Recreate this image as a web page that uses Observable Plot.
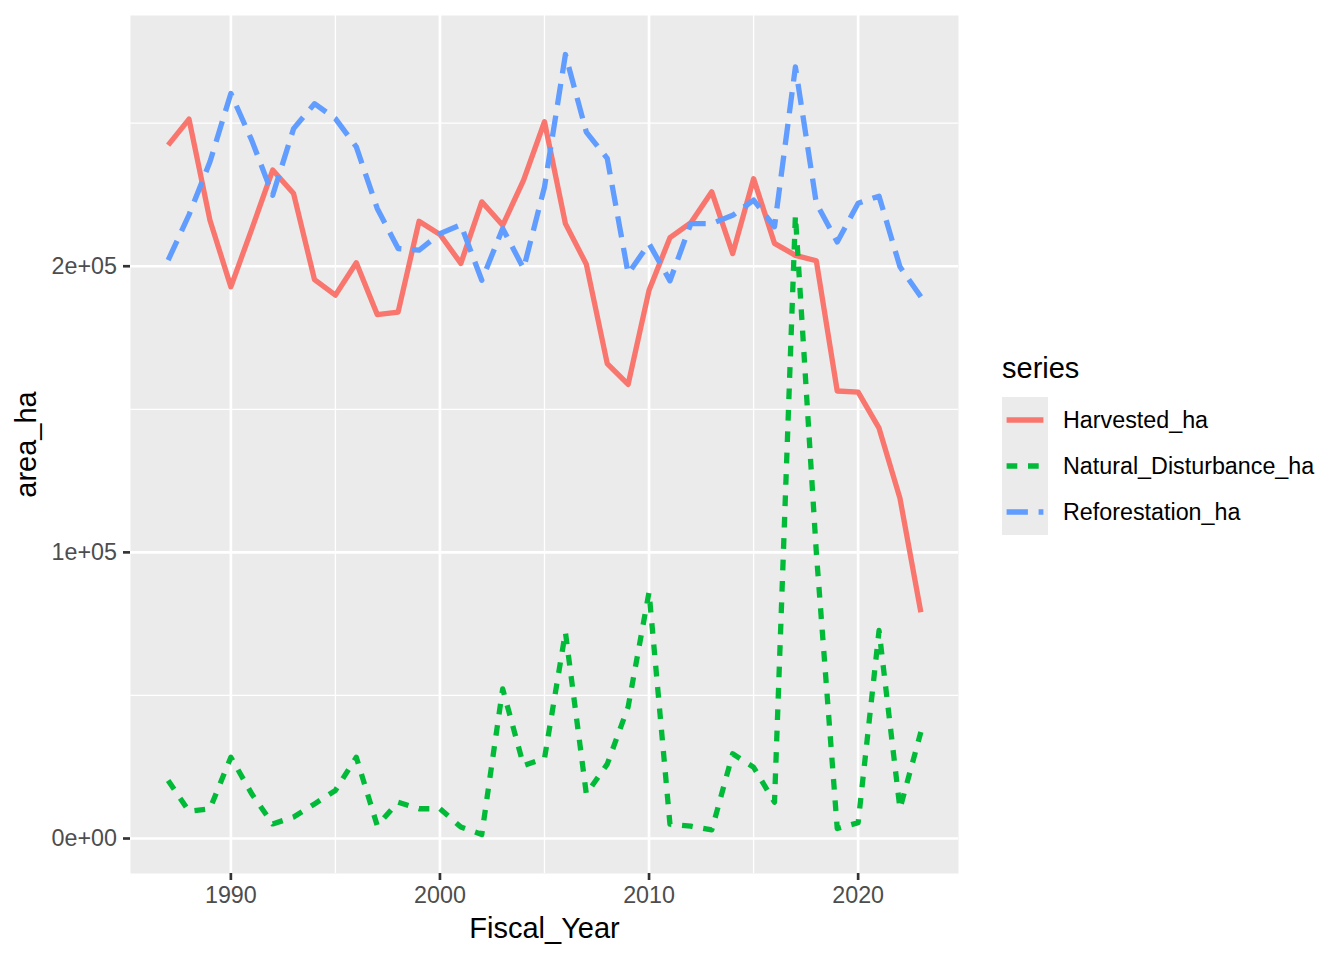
<!DOCTYPE html>
<html>
<head>
<meta charset="utf-8">
<script src="https://cdn.jsdelivr.net/npm/d3@7"></script>
<script src="https://cdn.jsdelivr.net/npm/@observablehq/plot@0.6"></script>
<style>
  html, body { margin: 0; padding: 0; background: white; overflow: hidden; }
  #wrap { position: relative; width: 1344px; height: 960px; }
  #legend { position: absolute; left: 0; top: 0; pointer-events: none; }
</style>
</head>
<body>
<div id="wrap"></div>
<script>
// ---- data ----
const years = [1987,1988,1989,1990,1991,1992,1993,1994,1995,1996,1997,1998,1999,2000,2001,2002,2003,2004,2005,2006,2007,2008,2009,2010,2011,2012,2013,2014,2015,2016,2017,2018,2019,2020,2021,2022,2023];
const harvested = [242300,251400,216100,192800,213000,233600,225400,195300,189900,201200,183100,184000,215700,211100,201000,222500,214300,230100,250500,214900,200700,166000,158700,191600,210000,215200,226000,204400,230600,208000,203800,201900,156400,156000,143400,118900,79100];
const naturalDisturbance = [20300,9500,10400,28400,15600,5100,7500,12100,16800,28400,4500,12700,10400,10400,4000,1400,52300,25500,28000,72100,15600,26000,46000,86100,5000,4300,3000,29600,24900,12700,217800,100000,3500,5500,72700,10400,37200];
const reforestation = [202100,218000,236500,260400,244000,224800,248100,256800,251600,241700,220200,206200,205600,211400,214500,195100,213200,199200,227700,274000,246900,237700,197400,207900,194900,214900,214900,217800,223100,213800,269700,222000,208500,222000,224500,199800,189300];

const seriesNames = ["Harvested_ha","Natural_Disturbance_ha","Reforestation_ha"];
const seriesValues = [harvested, naturalDisturbance, reforestation];
const seriesColors = ["#F8766D","#00BA38","#619CFF"];
const seriesDash = [null, "10.7,10.7", "21.3,10.7"];

const xTicks = [1990,2000,2010,2020];
const xMinor = [1995,2005,2015];
const yTicks = [0,100000,200000];
const yTickLabels = ["0e+00","1e+05","2e+05"];
const yMinor = [50000,150000,250000];

// ---- build ----
const rows = [];
seriesNames.forEach((s, i) => years.forEach((yr, j) => rows.push({series: s, year: yr, value: seriesValues[i][j]})));

const expand = (ext) => { const d = ext[1]-ext[0]; return [ext[0]-0.05*d, ext[1]+0.05*d]; };
const xDomain = expand(d3.extent(years));
const yDomain = expand(d3.extent(rows, d => d.value));

const W = 1344, H = 960;
const mL = 130, mR = 1344-958, mT = 15, mB = 960-873;
const lineW = 5.3, majorW = 2.67, minorW = 1.33;
const font = "'Liberation Sans', Arial, Helvetica, sans-serif";
const tickFont = 23.3, titleFont = 29;

const lineMarks = seriesNames.map((s, i) => Plot.lineY(rows.filter(d => d.series === s), {
  x: "year", y: "value", stroke: seriesColors[i], strokeWidth: lineW,
  strokeDasharray: seriesDash[i] || undefined, strokeLinecap: "butt", strokeLinejoin: "round"
}));

const chart = Plot.plot({
  width: W, height: H,
  marginLeft: mL, marginRight: mR, marginTop: mT, marginBottom: mB,
  style: {fontFamily: font, background: "white", overflow: "visible"},
  x: {domain: xDomain},
  y: {domain: yDomain},
  marks: [
    Plot.frame({fill: "#EBEBEB", stroke: null}),
    Plot.ruleX(xMinor, {stroke: "white", strokeWidth: minorW}),
    Plot.ruleY(yMinor, {stroke: "white", strokeWidth: minorW}),
    Plot.ruleX(xTicks, {stroke: "white", strokeWidth: majorW}),
    Plot.ruleY(yTicks, {stroke: "white", strokeWidth: majorW}),
    ...lineMarks,
    Plot.axisX({ticks: xTicks, tickFormat: d => String(d), tickSize: 7, tickPadding: 6,
      fontSize: tickFont, fill: "#4D4D4D", stroke: "#333333", strokeWidth: majorW, label: null}),
    Plot.axisY({ticks: yTicks, tickFormat: d => yTickLabels[yTicks.indexOf(d)], tickSize: 7, tickPadding: 6.5,
      fontSize: tickFont, fill: "#4D4D4D", stroke: "#333333", strokeWidth: majorW, label: null}),
    Plot.text(["Fiscal_Year"], {frameAnchor: "bottom", dy: 64, fontSize: titleFont, fill: "black", textAnchor: "middle"}),
    Plot.text(["area_ha"], {frameAnchor: "left", dx: -104, rotate: -90, fontSize: titleFont, fill: "black", textAnchor: "middle"})
  ]
});

const wrap = document.getElementById("wrap");
wrap.appendChild(chart);

// ---- legend (outside plot area) ----
const ns = "http://www.w3.org/2000/svg";
const leg = document.createElementNS(ns, "svg");
leg.setAttribute("id", "legend");
leg.setAttribute("width", W); leg.setAttribute("height", H);
leg.style.fontFamily = font;
const mk = (tag, attrs, text) => {
  const e = document.createElementNS(ns, tag);
  for (const k in attrs) e.setAttribute(k, attrs[k]);
  if (text != null) e.textContent = text;
  leg.appendChild(e); return e;
};
const lx = 1002, ly = 397, key = 46;
mk("text", {x: 1002, y: 378, "font-size": titleFont, fill: "black"}, "series");
mk("rect", {x: lx, y: ly, width: key, height: key*seriesNames.length, fill: "#EBEBEB"});
seriesNames.forEach((s, i) => {
  const cy = ly + key*i + key/2;
  const a = {x1: lx + 4.6, x2: lx + key - 4.6, y1: cy, y2: cy, stroke: seriesColors[i], "stroke-width": lineW, "stroke-linecap": "butt"};
  if (seriesDash[i]) a["stroke-dasharray"] = seriesDash[i];
  mk("line", a);
  mk("text", {x: 1063, y: cy + 8.3, "font-size": tickFont, fill: "black"}, s);
});
wrap.appendChild(leg);
</script>
</body>
</html>
